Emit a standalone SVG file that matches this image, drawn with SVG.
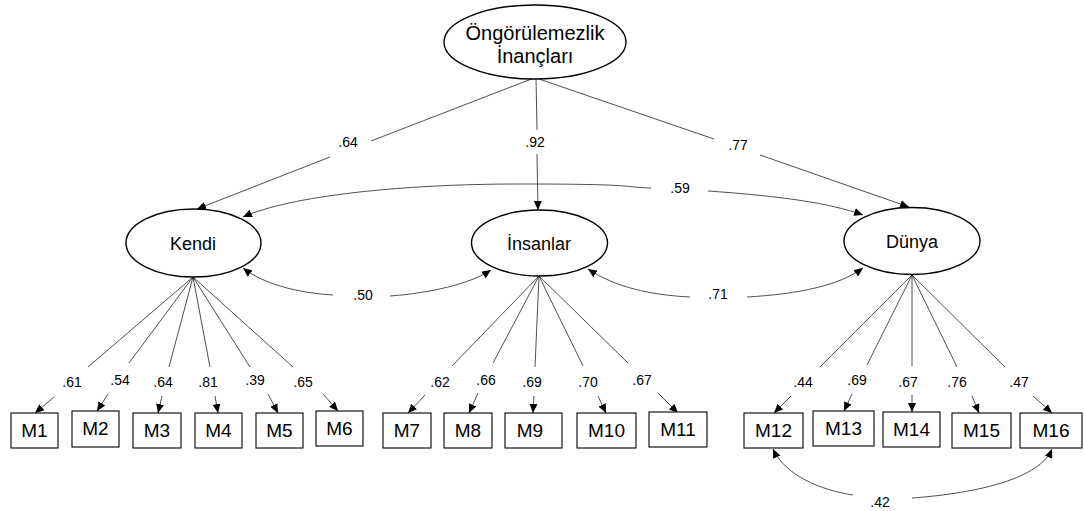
<svg xmlns="http://www.w3.org/2000/svg" width="1084" height="511" viewBox="0 0 1084 511">
<style>
  .bg{fill:#fff}
  .lat{fill:#fff;stroke:#000;stroke-width:1.4}
  .obs{fill:#fff;stroke:#000;stroke-width:1.1}
  .ln{fill:none;stroke:#222;stroke-width:0.8}
  .arr{fill:none;stroke:#222;stroke-width:0.8;marker-end:url(#ah)}
  .arr2{fill:none;stroke:#222;stroke-width:0.8;marker-start:url(#ahs)}
  .t{font-family:"Liberation Sans",Arial,sans-serif;fill:#000;text-anchor:middle}
  .big{font-size:20px}
  .mid{font-size:18px}
  .box{font-size:19px}
  .lab{font-size:14px}
</style>
<defs>
  <marker id="ah" markerUnits="userSpaceOnUse" markerWidth="9" markerHeight="8" viewBox="0 0 9 8" refX="9" refY="4" orient="auto">
    <path d="M0,0 L9,4 L0,8 z" fill="#000"/>
  </marker>
  <marker id="ahs" markerUnits="userSpaceOnUse" markerWidth="9" markerHeight="8" viewBox="0 0 9 8" refX="9" refY="4" orient="auto-start-reverse">
    <path d="M0,0 L9,4 L0,8 z" fill="#000"/>
  </marker>
</defs>
<rect class="bg" x="0" y="0" width="1084" height="511"/>

<g id="connectors">
  <!-- second-order paths -->
  <path class="ln" d="M534,78 L371,141"/>
  <path class="arr" d="M330,157 L197,209"/>
  <path class="ln" d="M536,78 L537,130"/>
  <path class="arr" d="M537,154 L538,210"/>
  <path class="ln" d="M536,78 L714,139"/>
  <path class="arr" d="M760,155 L909,207"/>
  <!-- correlations between factors -->
  <path class="arr2" d="M243,217 C290,196 400,184 520,184 S620,187 651,188"/>
  <path class="arr" d="M708,191 C780,196 830,203 863,215"/>
  <path class="arr2" d="M243,268 C265,285 300,293 333,295"/>
  <path class="arr" d="M390,296 C430,293 470,284 491,270"/>
  <path class="arr2" d="M588,269 C615,287 650,295 690,297"/>
  <path class="arr" d="M747,297 C800,294 840,285 863,268"/>
  <!-- error correlation M12-M16 -->
  <path class="arr2" d="M773,449 C785,475 820,490 853,495"/>
  <path class="arr" d="M912,498 C980,493 1040,478 1052,449"/>
  <!-- Kendi loadings -->
  <path class="ln" d="M193,277 L88,367 M193,277 L129,363 M193,277 L169,367 M193,277 L210,367 M193,277 L250,367 M193,277 L293,367"/>
  <path class="arr" d="M54,397 L35,413"/>
  <path class="arr" d="M108,394 L97,411"/>
  <path class="arr" d="M162,396 L158,413"/>
  <path class="arr" d="M215,396 L218,413"/>
  <path class="arr" d="M268,394 L278,413"/>
  <path class="arr" d="M323,394 L338,411"/>
  <!-- Insanlar loadings -->
  <path class="ln" d="M539,276 L452,366 M539,276 L493,363 M539,276 L535,367 M539,276 L583,366 M539,276 L628,363"/>
  <path class="arr" d="M425,395 L408,413"/>
  <path class="arr" d="M478,393 L469,413"/>
  <path class="arr" d="M534,396 L533,413"/>
  <path class="arr" d="M598,396 L606,413"/>
  <path class="arr" d="M658,393 L678,413"/>
  <!-- Dunya loadings -->
  <path class="ln" d="M912,275 L820,367 M912,275 L867,365 M912,275 L912,366 M912,275 L957,367 M912,275 L1005,367"/>
  <path class="arr" d="M791,396 L774,413"/>
  <path class="arr" d="M852,394 L844,411"/>
  <path class="arr" d="M912,395 L912,412"/>
  <path class="arr" d="M972,396 L979,413"/>
  <path class="arr" d="M1033,396 L1052,413"/>
  <!-- labels -->
  <g class="t lab">
    <text x="348" y="147">.64</text>
    <text x="535" y="147">.92</text>
    <text x="738" y="150">.77</text>
    <text x="680" y="193">.59</text>
    <text x="363" y="300">.50</text>
    <text x="718" y="299">.71</text>
    <text x="880" y="507">.42</text>
    <text x="72" y="387">.61</text>
    <text x="120" y="385">.54</text>
    <text x="163" y="387">.64</text>
    <text x="208" y="387">.81</text>
    <text x="255" y="385">.39</text>
    <text x="303" y="387">.65</text>
    <text x="440" y="387">.62</text>
    <text x="486" y="385">.66</text>
    <text x="532" y="387">.69</text>
    <text x="588" y="387">.70</text>
    <text x="642" y="385">.67</text>
    <text x="803" y="387">.44</text>
    <text x="857" y="385">.69</text>
    <text x="908" y="387">.67</text>
    <text x="957" y="387">.76</text>
    <text x="1019" y="387">.47</text>
  </g>
</g>

<g id="ongorulemezlik">
  <ellipse class="lat" cx="535" cy="42" rx="91" ry="37"/>
  <text class="t big" x="535" y="40">Öngörülemezlik</text>
  <text class="t big" x="535" y="63">İnançları</text>
</g>
<g id="kendi">
  <ellipse class="lat" cx="193.5" cy="243" rx="67.5" ry="34"/>
  <text class="t mid" x="193" y="250">Kendi</text>
</g>
<g id="insanlar">
  <ellipse class="lat" cx="539.5" cy="243" rx="68" ry="33"/>
  <text class="t mid" x="539" y="250">İnsanlar</text>
</g>
<g id="dunya">
  <ellipse class="lat" cx="912" cy="241" rx="68" ry="33.5"/>
  <text class="t mid" x="912" y="248">Dünya</text>
</g>

<g id="M1"><rect class="obs" x="11" y="413" width="47" height="35"/><text class="t box" x="34.5" y="437">M1</text></g>
<g id="M2"><rect class="obs" x="72" y="411" width="47" height="36"/><text class="t box" x="95.5" y="435">M2</text></g>
<g id="M3"><rect class="obs" x="133" y="413" width="48" height="35"/><text class="t box" x="157" y="437">M3</text></g>
<g id="M4"><rect class="obs" x="195" y="413" width="47" height="35"/><text class="t box" x="218.5" y="437">M4</text></g>
<g id="M5"><rect class="obs" x="256" y="413" width="47" height="35"/><text class="t box" x="279.5" y="437">M5</text></g>
<g id="M6"><rect class="obs" x="316" y="411" width="47" height="35"/><text class="t box" x="339.5" y="435">M6</text></g>
<g id="M7"><rect class="obs" x="383" y="413" width="48" height="35"/><text class="t box" x="407" y="437">M7</text></g>
<g id="M8"><rect class="obs" x="444" y="413" width="48" height="35"/><text class="t box" x="468" y="437">M8</text></g>
<g id="M9"><rect class="obs" x="505" y="413" width="57" height="35"/><text class="t box" x="530" y="437">M9</text></g>
<g id="M10"><rect class="obs" x="577" y="413" width="59" height="35"/><text class="t box" x="606.5" y="437">M10</text></g>
<g id="M11"><rect class="obs" x="649" y="412" width="58" height="35"/><text class="t box" x="678" y="436">M11</text></g>
<g id="M12"><rect class="obs" x="744" y="413" width="59" height="35"/><text class="t box" x="773.5" y="437">M12</text></g>
<g id="M13"><rect class="obs" x="813" y="411" width="61" height="35"/><text class="t box" x="843.5" y="435">M13</text></g>
<g id="M14"><rect class="obs" x="883" y="412" width="57" height="35"/><text class="t box" x="911.5" y="436">M14</text></g>
<g id="M15"><rect class="obs" x="952" y="413" width="59" height="35"/><text class="t box" x="981.5" y="437">M15</text></g>
<g id="M16"><rect class="obs" x="1020" y="413" width="62" height="35"/><text class="t box" x="1051" y="437">M16</text></g>
</svg>
